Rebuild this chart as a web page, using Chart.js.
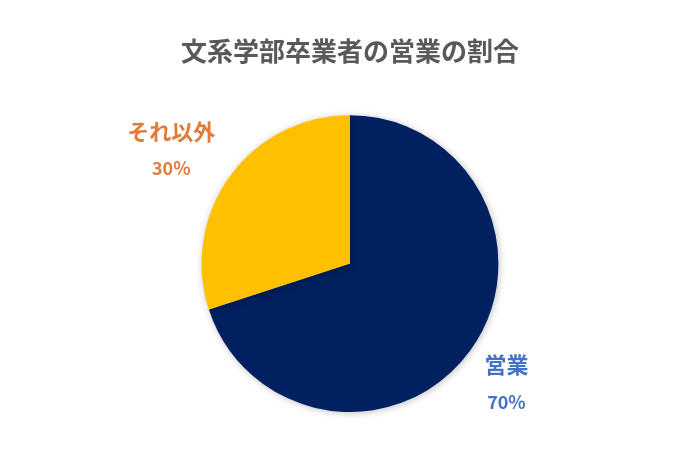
<!DOCTYPE html>
<html>
<head>
<meta charset="utf-8">
<script src="https://cdn.jsdelivr.net/npm/chart.js@4/dist/chart.umd.min.js"></script>
<style>
  html, body { margin: 0; padding: 0; background: #fff; }
  #wrap { width: 700px; height: 466px; }
</style>
</head>
<body>
<div id="wrap"><canvas id="c"></canvas></div>
<script>
const labels = ['営業', 'それ以外']
const values = [70, 30]
const sliceColors = ['#002060', '#FFC000']
const labelColors = ['#4472C4', '#E07B39']
// label placement relative to slice mid angle
const labelDist = [1.325, 1.43]
const labelNudge = [1.3, -3.4] // degrees

const FONT = '"Noto Sans CJK JP", "Noto Sans", sans-serif'

// soft shadow behind the pie
const shadowPlugin = {
  id: 'shadow',
  beforeDatasetDraw(chart) {
    const ctx = chart.ctx
    ctx.save()
    ctx.shadowColor = 'rgba(0,0,0,0.25)'
    ctx.shadowBlur = 7
    ctx.shadowOffsetX = 1
    ctx.shadowOffsetY = 1
  },
  afterDatasetDraw(chart) {
    chart.ctx.restore()
  }
}

// category name + percent outside each slice
const outsideLabels = {
  id: 'outsideLabels',
  afterDraw(chart) {
    const ctx = chart.ctx
    const meta = chart.getDatasetMeta(0)
    const total = values.reduce((a, b) => a + b, 0)
    meta.data.forEach((arc, i) => {
      const p = arc.getProps(['x', 'y', 'startAngle', 'endAngle', 'outerRadius'], true)
      const mid = (p.startAngle + p.endAngle) / 2 + labelNudge[i] * Math.PI / 180
      const r = p.outerRadius * labelDist[i]
      const x = p.x + Math.cos(mid) * r
      const y = p.y + Math.sin(mid) * r
      ctx.save()
      ctx.fillStyle = labelColors[i]
      ctx.textAlign = 'center'
      ctx.textBaseline = 'middle'
      ctx.font = 'bold 22px ' + FONT
      ctx.fillText(labels[i], x, y - 18)
      ctx.font = 'bold 18px ' + FONT
      ctx.fillText(Math.round(values[i] / total * 100) + '%', x, y + 19)
      ctx.restore()
    })
  }
}

new Chart(document.getElementById('c'), {
  type: 'pie',
  data: {
    labels: labels,
    datasets: [{
      data: values,
      backgroundColor: sliceColors,
      borderWidth: 0,
    }],
  },
  options: {
    responsive: true,
    maintainAspectRatio: false,
    animation: false,
    layout: {
      padding: {top: 0, bottom: 54, left: 0, right: 0}
    },
    plugins: {
      legend: {display: false},
      tooltip: {enabled: false},
      title: {
        display: true,
        text: '文系学部卒業者の営業の割合',
        color: '#595959',
        font: {family: FONT, size: 26, weight: 'bold', lineHeight: 1.2},
        padding: {top: 36, bottom: 48}
      }
    }
  },
  plugins: [shadowPlugin, outsideLabels]
})
</script>
</body>
</html>
